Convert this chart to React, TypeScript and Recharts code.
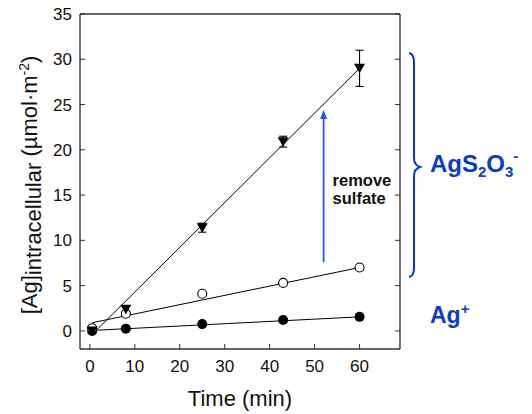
import React from 'react'
import { ComposedChart, Scatter, XAxis, YAxis, ErrorBar, ReferenceLine, ReferenceDot } from 'recharts'

// sampling times (min)
const timeMin = [0.5, 8, 25, 43, 60]
// [Ag] intracellular, µmol·m-2
const agThiosulfate = [0, 2.4, 11.4, 20.9, 29.0]
const agThiosulfateErr = [0, 0.3, 0.5, 0.6, 2.0]
const agSulfateRemoved = [0.3, 1.9, 4.1, 5.3, 7.0]
const agIon = [0, 0.25, 0.75, 1.2, 1.55]

// linear fits, start and end point
const fitThiosulfate = [{ x: 0.5, y: -0.4 }, { x: 60, y: 29.0 }]
const fitSulfateRemoved = [{ x: 0.5, y: 0.9 }, { x: 60, y: 7.0 }]
const fitIon = [{ x: 0.5, y: 0.05 }, { x: 60, y: 1.55 }]

const arrowSegment = [{ x: 52, y: 7.6 }, { x: 52, y: 24.4 }]
const notePoint = { x: 54, y: 16 }

const xTicks = [0, 10, 20, 30, 40, 50, 60]
const yTicks = [0, 5, 10, 15, 20, 25, 30, 35]

const FONT = 'Arial, "Liberation Sans", sans-serif'
const AXIS = '#333'
const BLUE = '#0b3bc9'

const thioData = timeMin.map((x, i) => ({ x, y: agThiosulfate[i], err: agThiosulfateErr[i] }))
const removedData = timeMin.map((x, i) => ({ x, y: agSulfateRemoved[i] }))
const ionData = timeMin.map((x, i) => ({ x, y: agIon[i] }))

const DownTriangle = (props: any) => {
  const { cx, cy } = props
  return <path d={`M${cx - 5.5},${cy - 4.5}L${cx + 5.5},${cy - 4.5}L${cx},${cy + 5}Z`} fill="#000" />
}

const OpenCircle = (props: any) => (
  <circle cx={props.cx} cy={props.cy} r={4.5} fill="#fff" stroke="#000" strokeWidth={1.1} />
)

const FilledCircle = (props: any) => <circle cx={props.cx} cy={props.cy} r={5} fill="#000" />

const NoDot = () => <g />

const Arrow = (props: any) => {
  const { x1, y1, x2, y2 } = props
  const top = Math.min(y1, y2)
  const bottom = Math.max(y1, y2)
  return (
    <g>
      <line x1={x1} y1={bottom} x2={x2} y2={top + 7} stroke="#2257e0" strokeWidth={1.8} />
      <path d={`M${x1 - 3.5},${top + 9}L${x1 + 3.5},${top + 9}L${x1},${top}Z`} fill="#2257e0" />
    </g>
  )
}

const Note = (props: any) => (
  <g fontFamily={FONT} fontWeight="bold" fontSize={16.5} fill="#111">
    <text x={props.cx} y={props.cy}>remove</text>
    <text x={props.cx} y={props.cy + 18}>sulfate</text>
  </g>
)

const YLabel = () => (
  <text transform="translate(37,185) rotate(-90)" textAnchor="middle" fontFamily={FONT} fontSize={22} fill="#111">
    [Ag]<tspan dy={4}>intracellular</tspan>
    <tspan dy={-4}> (µmol·m</tspan>
    <tspan dy={-8} fontSize={14}>-2</tspan>
    <tspan dy={8}>)</tspan>
  </text>
)

const XLabel = () => (
  <text x={240} y={406} textAnchor="middle" fontFamily={FONT} fontSize={22} fill="#111">
    Time (min)
  </text>
)

export default function App() {
  const tickStyle = { fontSize: 17, fill: '#111', fontFamily: FONT }
  const axisLine = { stroke: AXIS, strokeWidth: 1.4 }
  return (
    <div style={{ position: 'absolute', left: 0, top: 0, width: 532, height: 414, background: '#fff' }}>
      <ComposedChart width={532} height={414} margin={{ top: 13, right: 131, bottom: 0, left: 0 }}>
        <XAxis
          dataKey="x"
          type="number"
          domain={[-2.2, 69]}
          ticks={xTicks}
          allowDataOverflow
          height={65}
          tickSize={-5}
          tickMargin={16}
          axisLine={axisLine}
          tickLine={{ stroke: AXIS }}
          tick={tickStyle}
          label={{ content: XLabel }}
        />
        <XAxis
          xAxisId="top"
          orientation="top"
          type="number"
          domain={[-2.2, 69]}
          ticks={xTicks}
          allowDataOverflow
          height={1}
          tickSize={-5}
          tickFormatter={() => ''}
          axisLine={axisLine}
          tickLine={{ stroke: AXIS }}
        />
        <YAxis
          dataKey="y"
          type="number"
          domain={[-2, 35]}
          ticks={yTicks}
          allowDataOverflow
          width={80}
          tickSize={-5}
          tickMargin={13}
          axisLine={axisLine}
          tickLine={{ stroke: AXIS }}
          tick={tickStyle}
          label={{ content: YLabel }}
        />
        <YAxis
          yAxisId="right"
          orientation="right"
          type="number"
          domain={[-2, 35]}
          ticks={yTicks}
          allowDataOverflow
          width={1}
          tickSize={-5}
          tickFormatter={() => ''}
          axisLine={axisLine}
          tickLine={{ stroke: AXIS }}
        />

        <Scatter data={fitThiosulfate} dataKey="y" line={{ stroke: '#000', strokeWidth: 1 }} shape={NoDot} isAnimationActive={false} />
        <Scatter data={fitSulfateRemoved} dataKey="y" line={{ stroke: '#000', strokeWidth: 1 }} shape={NoDot} isAnimationActive={false} />
        <Scatter data={fitIon} dataKey="y" line={{ stroke: '#000', strokeWidth: 1 }} shape={NoDot} isAnimationActive={false} />

        <Scatter data={ionData} dataKey="y" shape={FilledCircle} isAnimationActive={false} />
        <Scatter data={removedData} dataKey="y" shape={OpenCircle} isAnimationActive={false} />
        <Scatter data={thioData} dataKey="y" shape={DownTriangle} isAnimationActive={false}>
          <ErrorBar dataKey="err" direction="y" width={4} stroke="#000" strokeWidth={1.1} />
        </Scatter>

        <ReferenceLine segment={arrowSegment} shape={Arrow} ifOverflow="visible" />
        <ReferenceDot x={notePoint.x} y={notePoint.y} shape={Note} ifOverflow="visible" />
      </ComposedChart>

      <svg width={532} height={414} style={{ position: 'absolute', left: 0, top: 0, pointerEvents: 'none' }}>
        <path
          d="M409,53 Q414,54 414,62 L414,158 Q414,165 420,167 Q414,169 414,176 L414,268 Q414,276 409,277"
          fill="none"
          stroke={BLUE}
          strokeWidth={2}
        />
        <text x={430} y={172} fontFamily={FONT} fontWeight="bold" fontSize={24} fill={BLUE}>
          AgS<tspan dy={5} fontSize={15}>2</tspan>
          <tspan dy={-5}>O</tspan>
          <tspan dy={5} fontSize={15}>3</tspan>
          <tspan dy={-16} fontSize={15}>-</tspan>
        </text>
        <text x={430} y={323} fontFamily={FONT} fontWeight="bold" fontSize={23} fill={BLUE}>
          Ag<tspan dy={-9} fontSize={15}>+</tspan>
        </text>
      </svg>
    </div>
  )
}
